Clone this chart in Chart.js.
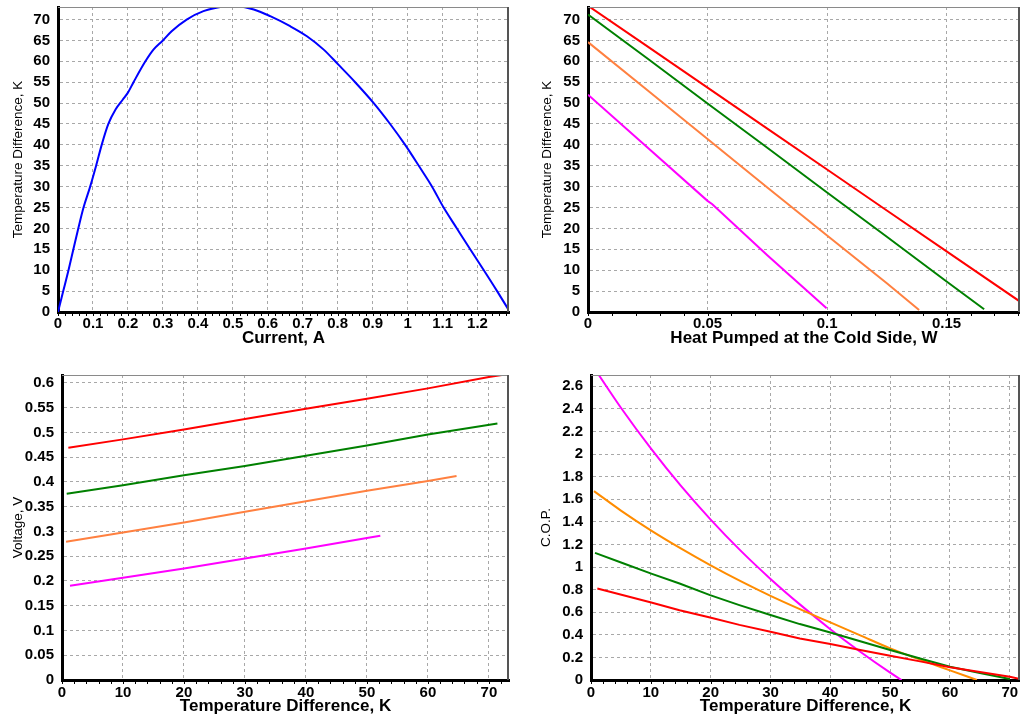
<!DOCTYPE html>
<html><head><meta charset="utf-8">
<script src="https://cdn.jsdelivr.net/npm/chart.js@4"></script>
<style>
html,body{margin:0;padding:0;background:#fff;}
#wrap{position:relative;width:1020px;height:717px;overflow:hidden;background:#fff;}
canvas{position:absolute;}
</style></head><body>
<div id="wrap">
<canvas id="c1" style="left:0;top:0" width="520" height="360"></canvas>
<canvas id="c2" style="left:520px;top:0" width="500" height="360"></canvas>
<canvas id="c3" style="left:0;top:360px" width="520" height="357"></canvas>
<canvas id="c4" style="left:520px;top:360px" width="500" height="357"></canvas>
</div>
<script>
// ---------- Panel 1: Temperature difference vs current ----------
const currentA = [0,0.015,0.03,0.044,0.058,0.073,0.092,0.109,0.125,0.144,0.165,0.185,0.2,0.216,0.25,0.273,0.3,0.325,0.368,0.416,0.464,0.5,0.56,0.607,0.664,0.712,0.76,0.802,0.85,0.903,0.95,0.993,1.032,1.07,1.103,1.141,1.179,1.218,1.256,1.289];
const dtVsCurrent = [0,5,10,15,20,25,30,35,40,45,48.5,50.8,52.5,55,60,62.8,65,67.2,70,72,73,73.3,72.4,70.8,68.4,66,62.8,59.2,55,50,45,40,35,30,25,20,15,10,5,0.5];

// ---------- Panel 2: Temperature difference vs heat pumped ----------
const qRed = [0,0.025,0.05,0.075,0.1,0.125,0.15,0.1807];
const dtQRed = [73.3,63.5,53.7,43.9,34.1,24.3,14.5,2.5];
const qGreen = [0,0.025,0.05,0.075,0.1,0.125,0.15,0.1657];
const dtQGreen = [71.2,60.6,49.9,39.3,28.6,18,7.3,0.65];
const qOrange = [0,0.025,0.05,0.075,0.1,0.125,0.1385];
const dtQOrange = [64.6,53,41.4,29.8,18.3,6.9,0.5];
const qMagenta = [0,0.025,0.05,0.052,0.075,0.0998];
const dtQMagenta = [52,39.3,26.6,25.8,13.6,0.9];

// ---------- Panel 3: Voltage vs temperature difference ----------
const dtVRed = [1.04,10,20,30,40,50,60,70,73.2];
const vRed = [0.469,0.486,0.506,0.527,0.548,0.568,0.589,0.612,0.618];
const dtVGreen = [0.77,10,20,30,40,50,60,71.4];
const vGreen = [0.376,0.3935,0.4137,0.432,0.4527,0.4736,0.4958,0.518];
const dtVOrange = [0.66,10,20,30,40,50,60,64.7];
const vOrange = [0.279,0.298,0.318,0.3397,0.361,0.382,0.402,0.412];
const dtVMagenta = [1.31,10,20,30,40,50,52.2];
const vMagenta = [0.1904,0.2065,0.2253,0.2455,0.2657,0.287,0.2913];

// ---------- Panel 4: C.O.P. vs temperature difference ----------
const dtCopRed = [1.06,5.25,10.07,14.8,19.9,24.8,30,34.9,40,45,50,55,60,65,70,71.7];
const copRed = [0.81,0.752,0.686,0.618,0.554,0.488,0.427,0.368,0.318,0.265,0.215,0.165,0.112,0.07,0.029,0.009];
const dtCopGreen = [0.67,5.25,10.07,14.8,19.9,24.8,30,34.9,40,45,50,55,60,65,70];
const copGreen = [1.125,1.036,0.942,0.854,0.751,0.663,0.575,0.495,0.421,0.343,0.265,0.19,0.118,0.062,0.009];
const dtCopOrange = [0.5,5,10,15,20,25,30,35,40,45,50,55,60,64.5];
const copOrange = [1.672,1.5,1.325,1.165,1.015,0.875,0.745,0.625,0.51,0.395,0.28,0.18,0.085,0];
const dtCopMagenta = [1.3,5,10,15,20,25,30,35,40,45,50,51.9];
const copMagenta = [2.7,2.41,2.05,1.72,1.42,1.145,0.895,0.665,0.45,0.25,0.065,0];

// Axis tick settings
const xTicks1 = {min:0, max:1.29, step:0.1, minor:0.02};
const yTicks1 = {min:0, max:73, step:5};
const xTicks2 = {min:0, max:0.1807, step:0.05, minor:0.01};
const yTicks2 = {min:0, max:73, step:5};
const xTicks3 = {min:0, max:73.3, step:10, minor:2};
const yTicks3 = {min:0, max:0.616, step:0.05};
const xTicks4 = {min:0, max:71.7, step:10, minor:2};
const yTicks4 = {min:0, max:2.7, step:0.2};

Chart.defaults.font.family = "'Liberation Sans', Arial, sans-serif";
Chart.defaults.color = '#000';

const pts = (xs, ys) => xs.map((x, i) => ({x, y: ys[i]}));
const line = (xs, ys, color, extra) => Object.assign({data: pts(xs, ys), borderColor: color, backgroundColor: color, borderWidth: 2, pointRadius: 0, showLine: true, fill: false, tension: 0}, extra || {});
const fmt = v => String(parseFloat(Number(v).toFixed(4)));

const framePlugin = {
  id: 'frame',
  afterDraw(chart, args, opts) {
    const {ctx, chartArea: a, scales} = chart;
    ctx.save();
    ctx.strokeStyle = '#8a8a8a'; ctx.lineWidth = 1;
    ctx.beginPath(); ctx.moveTo(a.left, a.top + 0.5); ctx.lineTo(a.right, a.top + 0.5); ctx.stroke();
    ctx.strokeStyle = '#555'; ctx.lineWidth = 2;
    ctx.beginPath(); ctx.moveTo(a.right - 1, a.top); ctx.lineTo(a.right - 1, a.bottom); ctx.stroke();
    const xs = scales.x;
    const m = opts.minor;
    if (m) {
      ctx.strokeStyle = '#000'; ctx.lineWidth = 1;
      const n = Math.floor(xs.max / m + 1e-9);
      for (let i = 0; i <= n; i++) {
        const px = Math.round(xs.getPixelForValue(i * m)) + 0.5;
        ctx.beginPath(); ctx.moveTo(px, a.bottom + 1); ctx.lineTo(px, a.bottom + 4); ctx.stroke();
      }
    }
    ctx.restore();
  }
};

function makeChart(id, datasets, xt, yt, xTitle, yTitle, L) {
  new Chart(document.getElementById(id), {
    type: 'scatter',
    data: {datasets},
    plugins: [framePlugin],
    options: {
      responsive: false, animation: false, devicePixelRatio: 1,
      layout: {padding: {top: L.top, right: L.right, bottom: 0, left: 0}},
      plugins: {legend: {display: false}, tooltip: {enabled: false}, frame: {minor: xt.minor}},
      scales: {
        x: {
          type: 'linear', min: xt.min, max: xt.max,
          grid: {color: '#a8a8a8', lineWidth: 1, drawTicks: false},
          border: {color: '#000', width: 3, dash: [3, 3]},
          ticks: {stepSize: xt.step, includeBounds: false, padding: L.xPad, autoSkip: false, maxRotation: 0,
                  font: {size: 15, weight: 'bold'}, callback: fmt},
          title: {display: true, text: xTitle, font: {size: 17, weight: 'bold'}, padding: {top: 0, bottom: L.xTitlePad}},
          afterFit(s) { s.height = L.xH; s.paddingLeft = 0; s.paddingRight = 0; }
        },
        y: {
          type: 'linear', min: yt.min, max: yt.max,
          grid: {color: '#a8a8a8', lineWidth: 1, drawTicks: false},
          border: {color: '#000', width: 3, dash: [3, 3]},
          ticks: {stepSize: yt.step, includeBounds: false, padding: 8, autoSkip: false,
                  font: {size: 15, weight: 'bold'}, callback: fmt},
          title: {display: true, text: yTitle, font: {size: 13.5, weight: 'normal'}, padding: {top: L.yTitlePad, bottom: 0}},
          afterFit(s) { s.width = L.yW; s.paddingTop = 0; s.paddingBottom = 0; }
        }
      }
    }
  });
}

makeChart('c1',
  [line(currentA, dtVsCurrent, '#0000ff', {cubicInterpolationMode: 'monotone'})],
  xTicks1, yTicks1, 'Current, A', 'Temperature Difference, K',
  {top: 7, right: 11, xH: 48, yW: 58, xPad: 3, xTitlePad: 11, yTitlePad: 10});

makeChart('c2',
  [line(qRed, dtQRed, '#ff0000'), line(qGreen, dtQGreen, '#008000'),
   line(qOrange, dtQOrange, '#ff8040'), line(qMagenta, dtQMagenta, '#ff00ff')],
  xTicks2, yTicks2, 'Heat Pumped at the Cold Side, W', 'Temperature Difference, K',
  {top: 7, right: 0, xH: 48, yW: 68, xPad: 3, xTitlePad: 11, yTitlePad: 19});

makeChart('c3',
  [line(dtVRed, vRed, '#ff0000'), line(dtVGreen, vGreen, '#008000'),
   line(dtVOrange, vOrange, '#ff8040'), line(dtVMagenta, vMagenta, '#ff00ff')],
  xTicks3, yTicks3, 'Temperature Difference, K', 'Voltage, V',
  {top: 15, right: 11, xH: 37, yW: 62, xPad: 4, xTitlePad: 0, yTitlePad: 10});

makeChart('c4',
  [line(dtCopRed, copRed, '#ff0000'), line(dtCopGreen, copGreen, '#008000'),
   line(dtCopOrange, copOrange, '#ff8c00', {cubicInterpolationMode: 'monotone'}),
   line(dtCopMagenta, copMagenta, '#ff00ff', {cubicInterpolationMode: 'monotone'})],
  xTicks4, yTicks4, 'Temperature Difference, K', 'C.O.P.',
  {top: 15, right: 0, xH: 37, yW: 71, xPad: 4, xTitlePad: 0, yTitlePad: 18});
</script>
</body></html>
